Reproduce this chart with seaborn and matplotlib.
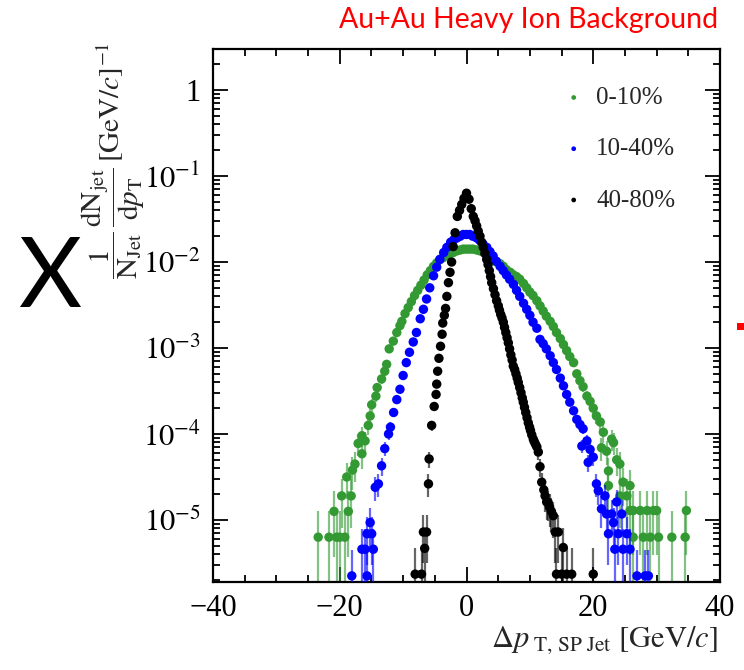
"""Delta pT distributions of single-particle jets embedded in Au+Au background."""

import matplotlib
matplotlib.use("Agg")
import matplotlib.pyplot as plt
import matplotlib.ticker as mticker
from matplotlib.patches import Rectangle
import numpy as np
import seaborn as sns

# values: x in GeV/c, y as log10 of 1/N dN/dpT
green_x = [-23.4, -21.7, -20.9, -20.5, -20.0, -19.7, -19.2, -18.9, -18.65, -18.2,
           -18.0, -17.6, -17.1, -16.5, -16.5, -16.0, -15.5, -15.2, -14.96, -14.3,
           -14.1, -13.4, -12.9, -12.6, -12.2, -11.55, -11.0, -10.5, -10.2, -9.7,
           -9.2, -8.7, -8.2, -7.7, -7.2, -6.7, -6.2, -5.7, -5.2, -4.7,
           -4.2, -3.7, -3.1, -2.6, -2.1, -1.5, -1.0, -0.5, 0.0, 0.5,
           1.0, 1.6, 2.1, 2.6, 3.2, 3.7, 4.2, 4.7, 5.3, 5.8,
           6.3, 6.9, 7.4, 7.9, 8.4, 9.0, 9.5, 10.0, 10.5, 11.1,
           11.6, 12.1, 12.6, 13.2, 13.7, 14.2, 14.8, 15.3, 15.8, 16.3,
           16.9, 17.4, 17.9, 18.4, 19.0, 19.5, 20.0, 20.5, 21.1, 21.3,
           21.6, 22.1, 22.4, 22.4, 22.9, 23.2, 23.7, 24.2, 24.2, 24.7,
           25.3, 25.8, 25.8, 26.3, 26.3, 27.4, 27.9, 28.5, 29.0, 29.5,
           30.0, 30.3, 32.4, 34.5, 34.7]
green_log = [-5.20, -5.20, -4.90, -5.20, -5.20, -4.72, -5.20, -4.50, -4.90, -4.72,
             -4.42, -4.35, -4.11, -4.23, -4.02, -4.08, -3.90, -3.79, -3.66, -3.56,
             -3.46, -3.36, -3.27, -3.19, -3.01, -2.92, -2.82, -2.74, -2.69, -2.60,
             -2.53, -2.46, -2.39, -2.33, -2.27, -2.21, -2.15, -2.10, -2.05, -2.01,
             -1.97, -1.95, -1.92, -1.90, -1.89, -1.87, -1.86, -1.85, -1.85, -1.85,
             -1.85, -1.86, -1.87, -1.88, -1.92, -1.95, -1.97, -2.00, -2.02, -2.05,
             -2.09, -2.12, -2.15, -2.17, -2.20, -2.25, -2.30, -2.35, -2.39, -2.45,
             -2.51, -2.57, -2.63, -2.69, -2.75, -2.82, -2.89, -2.96, -3.03, -3.10,
             -3.17, -3.30, -3.38, -3.45, -3.56, -3.62, -3.70, -3.79, -3.86, -4.16,
             -3.98, -4.20, -4.43, -4.60, -4.06, -4.10, -4.30, -4.35, -4.72, -4.56,
             -4.72, -4.60, -4.89, -4.89, -5.20, -4.89, -5.20, -4.89, -5.20, -4.89,
             -4.89, -5.20, -5.20, -5.20, -4.89]

blue_x = [-18.1, -16.5, -16.0, -15.7, -15.7, -15.2, -14.96, -14.7, -14.4, -13.9,
          -13.4, -12.9, -12.3, -12.0, -11.5, -11.0, -10.5, -10.0, -9.5, -9.0,
          -8.4, -7.9, -7.3, -6.8, -6.3, -5.8, -5.2, -4.7, -4.2, -3.6,
          -3.1, -2.5, -2.0, -1.5, -1.0, -0.5, 0.0, 0.5, 1.0, 1.6,
          2.1, 2.6, 3.2, 3.7, 4.2, 4.7, 5.3, 5.8, 6.3, 6.8,
          7.4, 7.9, 8.4, 9.0, 9.5, 10.0, 10.5, 11.1, 11.6, 12.1,
          12.6, 13.2, 13.7, 14.2, 14.8, 15.3, 15.8, 16.3, 16.9, 17.4,
          17.9, 18.4, 18.2, 19.0, 19.5, 19.2, 20.0, 20.5, 20.8, 21.3,
          21.85, 22.1, 22.4, 22.9, 23.2, 23.4, 23.7, 23.95, 24.5, 24.7,
          25.3, 25.8, 26.9, 28.2, 28.7]
blue_log = [-5.65, -5.34, -5.34, -5.65, -5.16, -5.03, -5.16, -5.34, -4.62, -4.58,
            -4.37, -4.17, -4.00, -3.92, -3.75, -3.60, -3.48, -3.32, -3.17, -3.05,
            -2.93, -2.82, -2.66, -2.55, -2.43, -2.30, -2.16, -2.06, -1.97, -1.89,
            -1.83, -1.77, -1.74, -1.72, -1.70, -1.68, -1.68, -1.68, -1.70, -1.72,
            -1.75, -1.79, -1.83, -1.88, -1.93, -1.99, -2.05, -2.10, -2.15, -2.20,
            -2.26, -2.33, -2.40, -2.48, -2.55, -2.62, -2.70, -2.77, -2.90, -2.95,
            -3.01, -3.09, -3.17, -3.25, -3.35, -3.44, -3.54, -3.63, -3.73, -3.83,
            -3.89, -3.94, -4.14, -4.08, -4.18, -4.33, -4.27, -4.58, -4.66, -4.87,
            -4.72, -4.93, -5.16, -4.93, -5.03, -5.34, -4.79, -5.16, -4.93, -5.34,
            -5.16, -5.34, -5.65, -5.65, -5.65]

black_x = [-8.1, -7.1, -6.8, -6.6, -6.3, -6.0, -5.9, -5.5, -5.1, -4.8,
           -4.7, -4.55, -4.35, -4.1, -3.85, -3.75, -3.5, -3.3, -3.1, -2.85,
           -2.6, -2.35, -2.1, -1.8, -1.45, -1.1, -0.75, -0.4, 0.0, 0.4,
           0.75, 1.07, 1.35, 1.6, 1.85, 2.13, 2.4, 2.65, 2.9, 3.19,
           3.4, 3.6, 3.8, 3.98, 4.25, 4.5, 4.75, 5.02, 5.2, 5.4,
           5.6, 5.81, 6.0, 6.2, 6.4, 6.6, 6.8, 7.0, 7.2, 7.38,
           7.6, 7.8, 8.0, 8.17, 8.4, 8.6, 8.8, 8.96, 9.15, 9.35,
           9.55, 9.75, 9.95, 10.1, 10.3, 10.54, 10.7, 10.9, 11.1, 11.33,
           11.6, 11.87, 12.2, 12.4, 12.65, 12.9, 13.1, 13.4, 13.7, 14.0,
           14.2, 14.48, 15.0, 15.27, 15.8, 16.6, 20.0]
black_log = [-5.63, -5.63, -5.14, -5.33, -5.14, -4.58, -4.29, -3.90, -3.68, -3.54,
             -3.42, -3.27, -3.12, -2.98, -2.84, -2.71, -2.62, -2.54, -2.40, -2.24,
             -2.12, -2.00, -1.82, -1.66, -1.47, -1.40, -1.33, -1.26, -1.20, -1.27,
             -1.38, -1.47, -1.52, -1.58, -1.64, -1.70, -1.77, -1.83, -1.90, -1.97,
             -2.03, -2.10, -2.17, -2.24, -2.31, -2.38, -2.45, -2.51, -2.56, -2.61,
             -2.65, -2.70, -2.76, -2.82, -2.88, -2.94, -3.01, -3.08, -3.14, -3.21,
             -3.25, -3.30, -3.35, -3.40, -3.46, -3.52, -3.58, -3.63, -3.69, -3.75,
             -3.81, -3.87, -3.92, -3.96, -4.01, -4.06, -4.09, -4.12, -4.15, -4.21,
             -4.38, -4.56, -4.65, -4.72, -4.79, -4.80, -4.85, -4.90, -4.95, -5.14,
             -5.63, -5.14, -5.63, -5.32, -5.63, -5.63, -5.63]

# height of a single-entry bin (log10), used for the Poisson error bars
single_entry_log = {"0-10%": -5.20, "10-40%": -5.65, "40-80%": -5.63}

labels = ["0-10%", "10-40%", "40-80%"]
colors = ["#339933", "#0000ff", "#000000"]
x_ticks = [-40, -20, 0, 20, 40]
y_ticks = [1e-5, 1e-4, 1e-3, 1e-2, 1e-1, 1]
y_tick_labels = [r"$10^{-5}$", r"$10^{-4}$", r"$10^{-3}$", r"$10^{-2}$", r"$10^{-1}$", "1"]

sns.set_style("white")
plt.rcParams["font.family"] = ["Liberation Serif", "DejaVu Serif"]
plt.rcParams["mathtext.fontset"] = "stix"

fig = plt.figure(figsize=(7.44, 6.70), dpi=100)
ax = fig.add_axes([213 / 744, 1 - 582 / 670, 507 / 744, 533 / 670])

series = [(green_x, green_log), (blue_x, blue_log), (black_x, black_log)]
for i, ((xs, logs), lab, col) in enumerate(zip(series, labels, colors)):
    assert len(xs) == len(logs), lab
    y = 10 ** np.asarray(logs)
    n = y / 10 ** single_entry_log[lab]
    yerr = y / np.sqrt(n)
    ax.errorbar(xs, y, yerr=yerr, fmt="none", ecolor=col, elinewidth=1.6,
                alpha=0.6, zorder=2 + 2 * i)
    sns.scatterplot(x=xs, y=y, color=col, s=46, edgecolor="none", linewidth=0,
                    label=lab, ax=ax, zorder=3 + 2 * i)

ax.set_yscale("log")
ax.set_xlim(-40, 40)
ax.set_ylim(1.9e-6, 3.0)
ax.set_xticks(x_ticks)
ax.xaxis.set_minor_locator(mticker.MultipleLocator(5))
ax.yaxis.set_major_locator(mticker.FixedLocator(y_ticks))
ax.yaxis.set_major_formatter(mticker.FixedFormatter(y_tick_labels))
ax.yaxis.set_minor_locator(mticker.LogLocator(base=10, subs=np.arange(2, 10)))
ax.yaxis.set_minor_formatter(mticker.NullFormatter())
ax.tick_params(which="both", direction="in", bottom=True, left=True, top=True,
               right=True, width=1.3, labelsize=22, colors="black")
ax.tick_params(which="major", length=11, pad=9)
ax.tick_params(which="minor", length=5)
for sp in ax.spines.values():
    sp.set_linewidth(1.6)
    sp.set_color("black")
ax.set_xlabel("")
ax.set_ylabel("")

ax.legend(loc="upper left", bbox_to_anchor=(0.672, 0.953), frameon=False,
          fontsize=18, handlelength=0.6, handletextpad=0.6, labelspacing=1.15,
          markerscale=0.5, borderpad=0)

fig.text(113 / 744, 1 - 160 / 670,
         r"$\dfrac{1}{\mathrm{N_{Jet}}}\,\dfrac{\mathrm{dN_{jet}}}{\mathrm{d}p_{\mathrm{T}}}\,[\mathrm{GeV}/c]^{-1}$",
         rotation=90, ha="center", va="center", fontsize=21)
fig.text(718 / 744, 1 - 640 / 670,
         r"$\Delta p_{\mathrm{\ T,\,SP\ Jet}}\ [\mathrm{GeV}/c]$",
         ha="right", va="center", fontsize=22)

fig.text(718 / 744, 1 - 20 / 670, "Au+Au Heavy Ion Background", color="#ff0000",
         family=["Lato", "DejaVu Sans"], fontsize=20.5, ha="right", va="center")
fig.text(50 / 744, 1 - 280 / 670, "X", family=["Lato", "DejaVu Sans"],
         fontsize=70, ha="center", va="center", color="black")
fig.add_artist(Rectangle((737 / 744, 1 - 330 / 670), 7 / 744, 7 / 670,
                         transform=fig.transFigure, color="#ff0000", lw=0))

fig.savefig("out.png", dpi=100)
